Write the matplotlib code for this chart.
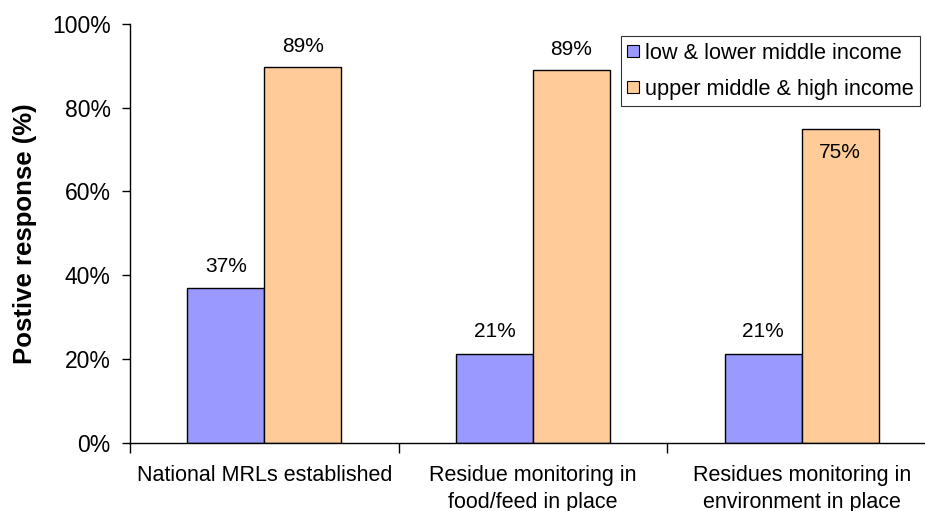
import matplotlib
matplotlib.use("Agg")
import matplotlib.pyplot as plt
from matplotlib.ticker import PercentFormatter
from matplotlib.lines import Line2D
import numpy as np

plt.rcParams['font.family'] = ['Liberation Sans', 'DejaVu Sans']

categories = ["National MRLs established",
              "Residue monitoring in\nfood/feed in place",
              "Residues monitoring in\nenvironment in place"]
series_names = ["low & lower middle income", "upper middle & high income"]
low_income = [0.368, 0.212, 0.211]
high_income = [0.897, 0.890, 0.749]
low_labels = ["37%", "21%", "21%"]
high_labels = ["89%", "89%", "75%"]

blue = "#9999FF"
orange = "#FFCC99"

fig = plt.figure(figsize=(9.25, 5.11), dpi=100)
ax = fig.add_axes([130/925, 68.5/511, (936-130)/925, 418.5/511])

x = np.arange(len(categories))
w = 0.287
ax.bar(x - w/2, low_income, w, color=blue, edgecolor="black", linewidth=1.0)
ax.bar(x + w/2, high_income, w, color=orange, edgecolor="black", linewidth=1.0)

ax.set_xlim(-0.5, len(categories) - 0.5)
ax.set_ylim(0, 1)
ax.set_yticks(np.arange(0, 1.01, 0.2))
ax.yaxis.set_major_formatter(PercentFormatter(1.0, decimals=0))

ax.set_xticks(x)
ax.set_xticklabels(categories, fontsize=15.5, linespacing=1.38, va='top')
ax.set_xticks(np.arange(-0.5, len(categories) + 0.5, 1), minor=True)
ax.tick_params(axis='x', which='major', length=0, pad=16)
ax.tick_params(axis='x', which='minor', length=7, width=1, direction='out')
ax.tick_params(axis='y', length=6, width=1, direction='out', labelsize=16.5, pad=8)

for s in ['top', 'right']:
    ax.spines[s].set_visible(False)
for s in ['left', 'bottom']:
    ax.spines[s].set_linewidth(1.0)

ax.set_ylabel("Postive response (%)", fontsize=18.5, fontweight='bold', labelpad=11)

for xi, v, lab in zip(x, low_income, low_labels):
    ax.annotate(lab, (xi - w/2, v), xytext=(0, 16), textcoords='offset points',
                ha='center', va='center', fontsize=15)
for i, (xi, v, lab) in enumerate(zip(x, high_income, high_labels)):
    off = 15 if i < 2 else -17
    ax.annotate(lab, (xi + w/2, v), xytext=(0, off), textcoords='offset points',
                ha='center', va='center', fontsize=15)

handles = [Line2D([], [], marker='s', linestyle='none', markersize=8,
                  markerfacecolor=c, markeredgecolor='black', markeredgewidth=0.8)
           for c in (blue, orange)]
leg = fig.legend(handles, series_names, loc='upper right',
                 bbox_to_anchor=(920/925, (511-36)/511), fontsize=15.7,
                 frameon=True, fancybox=False, edgecolor='black',
                 handlelength=0.5, handletextpad=0.3, borderpad=0.3,
                 labelspacing=0.7, borderaxespad=0, handleheight=0.7)
leg.get_frame().set_linewidth(0.8)

fig.savefig("out.png", dpi=100)
